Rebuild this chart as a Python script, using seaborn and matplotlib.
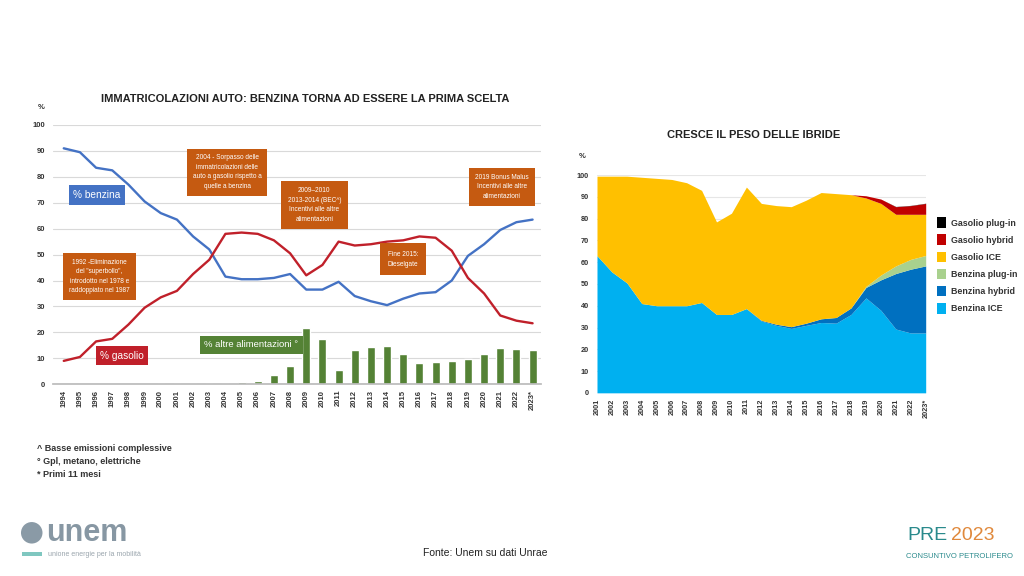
import matplotlib
matplotlib.use("Agg")
import matplotlib.pyplot as plt
from matplotlib import font_manager
from matplotlib.patches import Rectangle, Ellipse
import numpy as np
import pandas as pd
import seaborn as sns

# left chart: share of registrations by fuel, 1994-2023
years_left = ["1994", "1995", "1996", "1997", "1998", "1999", "2000", "2001", "2002", "2003",
              "2004", "2005", "2006", "2007", "2008", "2009", "2010", "2011", "2012", "2013",
              "2014", "2015", "2016", "2017", "2018", "2019", "2020", "2021", "2022", "2023*"]
benzina = [91, 89.5, 83.5, 82.5, 77, 70.5, 66, 63.5, 57, 52,
           41.5, 40.5, 40.5, 41, 42.5, 36.5, 36.5, 39.5, 34, 32,
           30.5, 33, 35, 35.5, 40, 49.5, 54, 59.5, 62.5, 63.5]
gasolio = [9, 10.5, 16.5, 17.5, 23, 29.5, 33.5, 36, 42.5, 48,
           58, 58.5, 58, 55.5, 50.5, 42, 46, 55, 53.5, 54,
           55, 55.5, 57, 56.5, 51.5, 41, 35, 26.5, 24.5, 23.5]
altre = [0, 0, 0, 0, 0, 0.2, 0.3, 0.5, 0.3, 0.3,
         0.5, 1.0, 1.2, 3.6, 7.2, 21.8, 17.5, 5.4, 13.2, 14.2,
         14.7, 11.7, 8.1, 8.4, 8.8, 9.8, 11.5, 14.1, 13.5, 13.0]

# right chart: stacked shares by powertrain, 2001-2023
years_right = ["2001", "2002", "2003", "2004", "2005", "2006", "2007", "2008", "2009", "2010",
               "2011", "2012", "2013", "2014", "2015", "2016", "2017", "2018", "2019", "2020",
               "2021", "2022", "2023*"]
benzina_ice = [63, 55.5, 50.5, 41, 40, 40, 40, 41.5, 36, 36,
               38.7, 33, 31, 29.6, 31, 32.3, 32, 36, 43.6, 37.9,
               29.3, 27.5, 27.5]
benzina_hybrid = [0, 0, 0, 0, 0, 0, 0, 0, 0, 0,
                  0, 0.3, 0.5, 0.8, 1.0, 1.7, 2.6, 3.0, 4.8, 14,
                  25.5, 29.3, 30.8]
benzina_plugin = [0, 0, 0, 0, 0, 0, 0, 0, 0, 0,
                  0, 0, 0, 0, 0, 0, 0, 0, 0.5, 2.2,
                  3.5, 4.5, 4.8]
gasolio_ice = [36.5, 44, 49, 58, 58.5, 58, 56.5, 51.5, 42.5, 46.5,
               55.8, 53.7, 54.5, 55.1, 56.5, 58, 56.9, 52, 40.6, 32.9,
               23.7, 20.7, 18.9]
gasolio_hybrid = [0, 0, 0, 0, 0, 0, 0, 0, 0, 0,
                  0, 0, 0, 0, 0, 0, 0, 0, 1.0, 2.0,
                  3.5, 4.0, 5.0]
gasolio_plugin = [0, 0, 0, 0, 0, 0, 0, 0, 0, 0,
                  0, 0, 0, 0, 0, 0, 0, 0, 0, 0,
                  0.1, 0.1, 0.1]

series_names = ["Benzina ICE", "Benzina hybrid", "Benzina plug-in",
                "Gasolio ICE", "Gasolio hybrid", "Gasolio plug-in"]
series_colors = ["#00b0f0", "#0070c0", "#a9d18e", "#ffc000", "#c00000", "#000000"]

sns.set_theme(style="white")
installed = {f.name for f in font_manager.fontManager.ttflist}
narrow = "Liberation Sans Narrow" if "Liberation Sans Narrow" in installed else "Liberation Sans"
plt.rcParams["font.family"] = [narrow, "DejaVu Sans"]

ORANGE = "#c55a11"
BLUE = "#4472c4"
RED = "#c0202a"
GREEN = "#548235"
GRID = "#d9d9d9"
TXT = "#333333"

fig = plt.figure(figsize=(10.24, 5.76), dpi=100)
fig.patch.set_facecolor("white")

# ---------------- left chart ----------------
ax = fig.add_axes([0.052, 0.333, 0.476, 0.45])
df_left = pd.DataFrame({"i": np.arange(len(years_left)), "benzina": benzina,
                        "gasolio": gasolio, "altre": altre})
sns.barplot(data=df_left, x="i", y="altre", native_scale=True, color=GREEN,
            width=0.5, saturation=1, ax=ax, zorder=2)
sns.lineplot(data=df_left, x="i", y="benzina", color=BLUE, linewidth=1.7, ax=ax, zorder=3)
sns.lineplot(data=df_left, x="i", y="gasolio", color=RED, linewidth=1.7, ax=ax, zorder=3)
ax.set_xlim(-0.65, 29.5)
ax.set_ylim(0, 100)
ax.set_yticks(range(0, 101, 10))
ax.set_xticks(df_left["i"])
ax.set_xticklabels(years_left, rotation=90, fontsize=5.5, color=TXT, fontweight="bold")
ax.tick_params(axis="y", labelsize=5.5, colors=TXT, length=0, pad=6)
ax.tick_params(axis="x", length=2, color="#bbbbbb", pad=2)
for lbl in ax.get_yticklabels():
    lbl.set_fontweight("bold")
ax.set_xlabel("")
ax.set_ylabel("")
ax.yaxis.grid(True, color=GRID, linewidth=0.8)
ax.set_axisbelow(True)
for s in ["top", "right", "left"]:
    ax.spines[s].set_visible(False)
ax.spines["bottom"].set_color("#bbbbbb")
ax.text(-0.025, 1.06, "%", transform=ax.transAxes, fontsize=5.5, fontweight="bold",
        color=TXT, ha="center")
fig.text(0.298, 0.828, "IMMATRICOLAZIONI AUTO: BENZINA TORNA AD ESSERE LA PRIMA SCELTA",
         ha="center", va="center", fontsize=8, fontweight="bold", color="#222222")


def box(axis, x, y, text, color, size=4.7, pad=0.6, weight="normal", ls=1.5):
    axis.text(x, y, text, ha="center", va="center", fontsize=size, color="white",
              fontweight=weight, linespacing=ls, zorder=5,
              bbox=dict(boxstyle=f"square,pad={pad}", facecolor=color, edgecolor="none"))


box(ax, 2.2, 41.5, "1992 -Eliminazione\ndel \"superbollo\",\nintrodotto nel 1978 e\nraddoppiato nel 1987", ORANGE, pad=0.9)
box(ax, 10.1, 81.8, "2004 - Sorpasso delle\nimmatricolazioni delle\nauto a gasolio rispetto a\nquelle a benzina", ORANGE, pad=0.9)
box(ax, 15.5, 69.2, "2009\u20132010\n2013-2014 (BEC^)\nIncentivi alle altre\nalimentazioni", ORANGE, pad=1.0)
box(ax, 21.0, 48.2, "Fine 2015:\nDieselgate", ORANGE, pad=1.2)
box(ax, 27.1, 76.2, "2019 Bonus Malus\nIncentivi alle altre\nalimentazioni", ORANGE, pad=0.9)
box(ax, 2.05, 73.0, "% benzina", BLUE, size=7.3, pad=0.45)
box(ax, 3.6, 11.0, "% gasolio", RED, size=7.3, pad=0.45)
box(ax, 11.6, 15.2, "% altre alimentazioni \u00b0", GREEN, size=6.8, pad=0.5)

# footnotes
for k, note in enumerate(["^ Basse emissioni complessive", "\u00b0 Gpl, metano, elettriche",
                          "* Primi 11 mesi"]):
    fig.text(0.036, 0.222 - k * 0.0225, note, fontsize=6.5, fontweight="bold",
             color=TXT, va="center")

# ---------------- right chart ----------------
ax2 = fig.add_axes([0.583, 0.318, 0.321, 0.378])
xr = np.arange(len(years_right))
stack = [benzina_ice, benzina_hybrid, benzina_plugin, gasolio_ice, gasolio_hybrid, gasolio_plugin]
ax2.stackplot(xr, *stack, colors=series_colors, linewidth=0, zorder=2)
ax2.set_xlim(0, len(years_right) - 1)
ax2.set_ylim(0, 100)
ax2.set_yticks(range(0, 101, 10))
ax2.set_xticks(xr)
ax2.set_xticklabels(years_right, rotation=90, fontsize=5.3, color=TXT, fontweight="bold")
ax2.tick_params(axis="y", labelsize=5.3, colors=TXT, length=0, pad=6)
ax2.tick_params(axis="x", length=0, pad=4)
for lbl in ax2.get_yticklabels():
    lbl.set_fontweight("bold")
ax2.yaxis.grid(True, color="#e6e6e6", linewidth=0.8)
ax2.set_axisbelow(True)
for s in ["top", "right", "left", "bottom"]:
    ax2.spines[s].set_visible(False)
ax2.text(-0.045, 1.08, "%", transform=ax2.transAxes, fontsize=5.5, fontweight="bold",
         color=TXT, ha="center")
fig.text(0.736, 0.765, "CRESCE IL PESO DELLE IBRIDE", ha="center", va="center",
         fontsize=8, fontweight="bold", color="#222222")

handles = [Rectangle((0, 0), 1, 1, facecolor=c, edgecolor="none") for c in series_colors]
leg = ax2.legend(handles[::-1], series_names[::-1], loc="center left",
                 bbox_to_anchor=(1.01, 0.585), frameon=False, fontsize=6.4,
                 handlelength=1.0, handleheight=1.5, handletextpad=0.6, labelspacing=0.7)
for t in leg.get_texts():
    t.set_fontweight("bold")
    t.set_color(TXT)

# ---------------- footer ----------------
fig.text(0.474, 0.04, "Fonte: Unem su dati Unrae", ha="center", va="center",
         fontsize=7.5, color="#222222")
fig.patches.append(Ellipse((0.031, 0.075), 0.021, 0.021 * 1024 / 576,
                           transform=fig.transFigure, facecolor="#8a9aa6", edgecolor="none"))
fig.text(0.045, 0.075, "unem", ha="left", va="center", fontsize=22, fontweight="bold",
         color="#8797a3")
fig.patches.append(Rectangle((0.021, 0.035), 0.02, 0.006, transform=fig.transFigure,
                             facecolor="#7fc7c0", edgecolor="none"))
fig.text(0.047, 0.038, "unione energie per la mobilit\u00e0", ha="left", va="center",
         fontsize=5, color="#9aa5ad")
fig.text(0.886, 0.07, "PRE", ha="left", va="center", fontsize=14, color="#2a8a8c")
fig.text(0.929, 0.07, "2023", ha="left", va="center", fontsize=14, color="#e0893c")
fig.text(0.885, 0.033, "CONSUNTIVO PETROLIFERO", ha="left", va="center", fontsize=5.5,
         color="#2a8a8c")

fig.savefig("out.png", dpi=100)
